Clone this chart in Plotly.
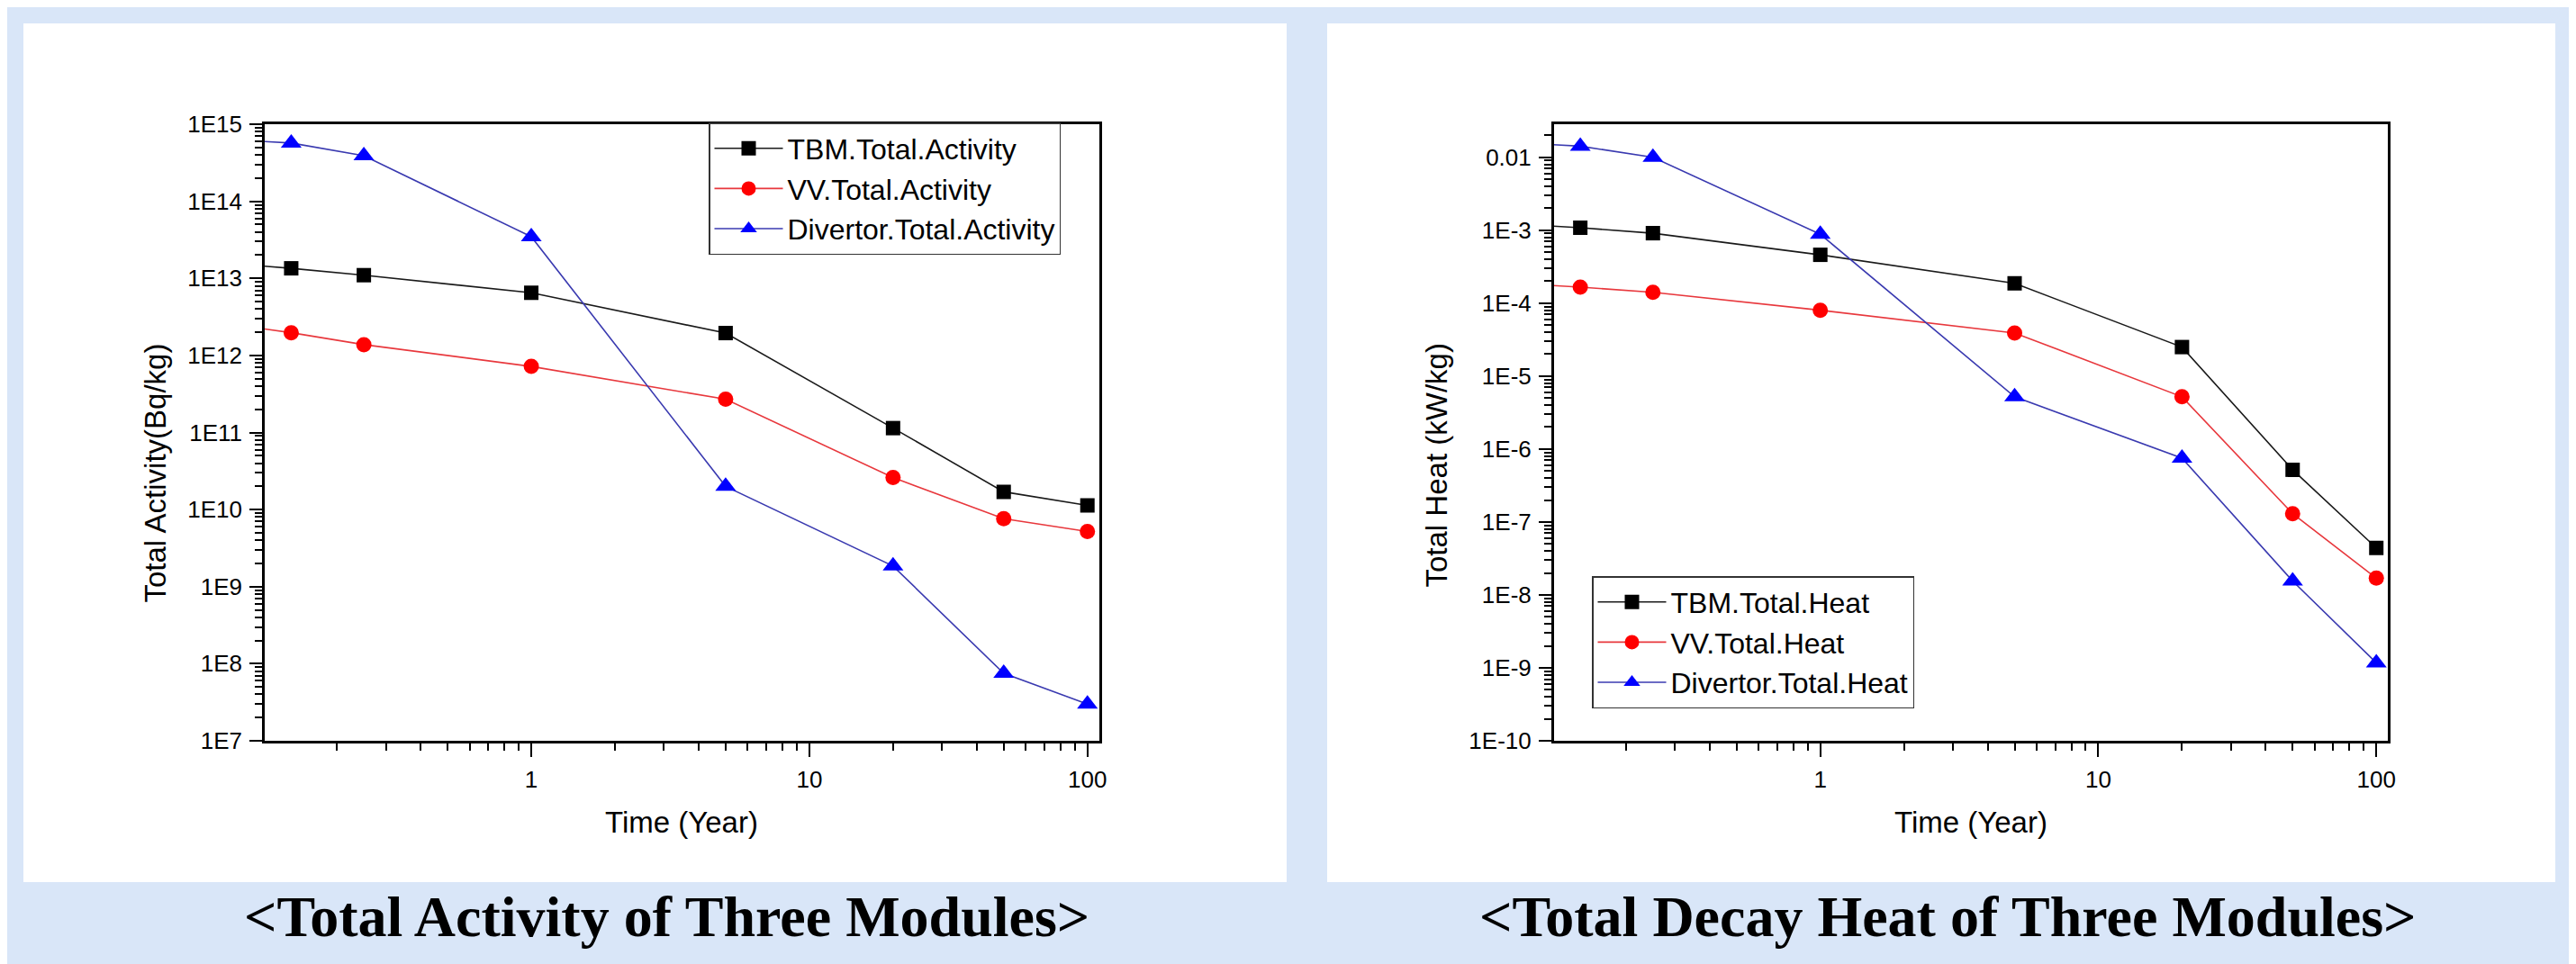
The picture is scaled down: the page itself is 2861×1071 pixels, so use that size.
import math
import plotly.graph_objects as go

W, H = 2861, 1071

# ---------------- data ----------------
t_years = [0.0833, 0.137, 0.25, 1, 5, 20, 50, 100]

tbm_activity = [1.56e13, 1.35e13, 1.10e13, 6.5e12, 1.95e12, 1.14e11, 1.7e10, 1.13e10]
vv_activity = [2.53e12, 1.97e12, 1.38e12, 7.2e11, 2.7e11, 2.6e10, 7.6e9, 5.2e9]
div_activity = [6.3e14, 5.7e14, 3.9e14, 3.47e13, 2.0e10, 1.85e9, 7.5e7, 3.0e7]

tbm_heat = [1.21e-3, 1.08e-3, 9.1e-4, 4.6e-4, 1.87e-4, 2.5e-5, 5.2e-7, 4.4e-8]
vv_heat = [1.85e-4, 1.66e-4, 1.41e-4, 8.0e-5, 3.9e-5, 5.2e-6, 1.3e-7, 1.7e-8]
div_heat = [0.0158, 0.0142, 0.0100, 8.8e-4, 5.2e-6, 7.5e-7, 1.55e-8, 1.17e-9]

activity_names = ["TBM.Total.Activity", "VV.Total.Activity", "Divertor.Total.Activity"]
heat_names = ["TBM.Total.Heat", "VV.Total.Heat", "Divertor.Total.Heat"]

x_tickvals = [1, 10, 100]
x_ticktext = ["1", "10", "100"]
act_tickvals = [1e7, 1e8, 1e9, 1e10, 1e11, 1e12, 1e13, 1e14, 1e15]
act_ticktext = ["1E7", "1E8", "1E9", "1E10", "1E11", "1E12", "1E13", "1E14", "1E15"]
heat_tickvals = [1e-10, 1e-9, 1e-8, 1e-7, 1e-6, 1e-5, 1e-4, 1e-3, 1e-2]
heat_ticktext = ["1E-10", "1E-9", "1E-8", "1E-7", "1E-6", "1E-5", "1E-4", "1E-3", "0.01"]

captions = ["<Total Activity of Three Modules>", "<Total Decay Heat of Three Modules>"]

# ---------------- styling ----------------
BG = "#D9E6F8"
FONT = "Liberation Sans, Arial, sans-serif"
styles = [
    dict(line="#1a1a1a", marker="#000000", symbol="square", size=16),
    dict(line="#E8383D", marker="#FF0000", symbol="circle", size=17),
    dict(line="#3A3AB0", marker="#0000FF", symbol="triangle-up", size=20),
]


def minor_vals(lo_exp, hi_exp):
    out = []
    for e in range(lo_exp, hi_exp + 1):
        for m in range(2, 10):
            out.append(m * 10.0 ** e)
    return out


def px(x):
    return x / W


def py(y):
    return 1 - y / H


fig = go.Figure()

for vals, name, st in zip([tbm_activity, vv_activity, div_activity], activity_names, styles):
    fig.add_trace(go.Scatter(
        x=t_years, y=vals, name=name, mode="lines+markers",
        line=dict(color=st["line"], width=1.6),
        marker=dict(symbol=st["symbol"], size=st["size"], color=st["marker"]),
        xaxis="x", yaxis="y", legend="legend",
    ))

for vals, name, st in zip([tbm_heat, vv_heat, div_heat], heat_names, styles):
    fig.add_trace(go.Scatter(
        x=t_years, y=vals, name=name, mode="lines+markers",
        line=dict(color=st["line"], width=1.6),
        marker=dict(symbol=st["symbol"], size=st["size"], color=st["marker"]),
        xaxis="x2", yaxis="y2", legend="legend2",
    ))

xrange_log = [math.log10(0.11), math.log10(110)]

common_axis = dict(
    type="log", showgrid=False, zeroline=False, showline=True, mirror=True,
    linecolor="black", linewidth=2.5, ticks="outside", tickwidth=2,
    tickcolor="black", tickfont=dict(family=FONT, size=26, color="black"),
    automargin=False, ticklabelstandoff=3,
)

xaxis_common = dict(common_axis, tickmode="array", tickvals=x_tickvals, ticktext=x_ticktext,
                    ticklen=15, range=xrange_log,
                    minor=dict(tickmode="array", tickvals=minor_vals(-1, 1), ticks="outside",
                               ticklen=8, tickwidth=2, tickcolor="black", showgrid=False))

PLOT_TOP, PLOT_BOT = 130, 815
ydom = [py(PLOT_BOT), py(PLOT_TOP)]

legend_style = dict(xanchor="left", yanchor="top", bgcolor="white",
                    bordercolor="#333333", borderwidth=1.5,
                    font=dict(family=FONT, size=32, color="black"),
                    itemwidth=76, tracegroupgap=0)

fig.update_layout(
    width=W, height=H, autosize=False,
    margin=dict(l=0, r=0, t=0, b=0),
    paper_bgcolor=BG, plot_bgcolor="white",
    font=dict(family=FONT, color="black"),
    xaxis=dict(xaxis_common, domain=[px(286), px(1212.5)], anchor="y"),
    yaxis=dict(common_axis, domain=ydom, anchor="x", range=[7, 15],
               tickmode="array", tickvals=act_tickvals, ticktext=act_ticktext, ticklen=14,
               minor=dict(tickmode="array", tickvals=minor_vals(7, 14), ticks="outside",
                          ticklen=8, tickwidth=2, tickcolor="black", showgrid=False)),
    xaxis2=dict(xaxis_common, domain=[px(1717.7), px(2644)], anchor="y2"),
    yaxis2=dict(common_axis, domain=ydom, anchor="x2", range=[-10, math.log10(0.0284)],
                tickmode="array", tickvals=heat_tickvals, ticktext=heat_ticktext, ticklen=14,
                minor=dict(tickmode="array", tickvals=minor_vals(-10, -2), ticks="outside",
                           ticklen=8, tickwidth=2, tickcolor="black", showgrid=False)),
    legend=dict(legend_style, x=px(779), y=py(128)),
    legend2=dict(legend_style, x=px(1760), y=py(632)),
    showlegend=True,
)

# white panels
for x0, x1 in [(18, 1421), (1466, 2830)]:
    fig.add_shape(type="rect", xref="paper", yref="paper",
                  x0=px(x0), x1=px(x1), y0=py(972), y1=py(18),
                  fillcolor="white", line=dict(width=0), layer="below")

ann = []
# axis titles
for cx in [749, 2181]:
    ann.append(dict(text="Time (Year)", x=px(cx), y=py(905), xref="paper", yref="paper",
                    showarrow=False, xanchor="center", yanchor="middle",
                    font=dict(family=FONT, size=33, color="black")))
ann.append(dict(text="Total Activity(Bq/kg)", x=px(163.5), y=py(518), xref="paper", yref="paper",
                showarrow=False, xanchor="center", yanchor="middle", textangle=-90,
                font=dict(family=FONT, size=33, color="black")))
ann.append(dict(text="Total Heat (kW/kg)", x=px(1586.5), y=py(509), xref="paper", yref="paper",
                showarrow=False, xanchor="center", yanchor="middle", textangle=-90,
                font=dict(family=FONT, size=33, color="black")))
# captions
for cx, txt in zip([732, 2155], captions):
    ann.append(dict(text="<b>" + txt.replace("<", "&lt;").replace(">", "&gt;") + "</b>",
                    x=px(cx), y=py(1010), xref="paper", yref="paper",
                    showarrow=False, xanchor="center", yanchor="middle",
                    font=dict(family="Liberation Serif, Times New Roman, serif", size=64, color="black")))
fig.update_layout(annotations=ann)

fig.write_html("out.html")
